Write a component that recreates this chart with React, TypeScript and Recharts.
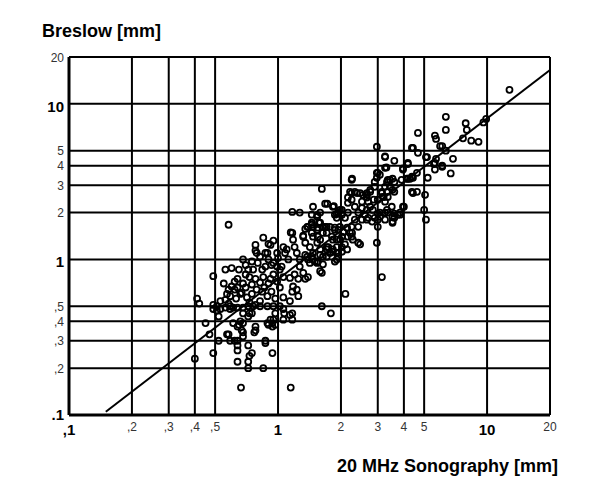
import { ScatterChart, Scatter, XAxis, YAxis, CartesianGrid } from "recharts";

// grid / tick values (mm, log scale)
const xTicks = [0.1, 0.2, 0.3, 0.4, 0.5, 1, 2, 3, 4, 5, 10, 20];
const xTickLabels = [",1", ",2", ",3", ",4", ",5", "1", "2", "3", "4", "5", "10", "20"];
const yTicks = [0.1, 0.2, 0.3, 0.4, 0.5, 1, 2, 3, 4, 5, 10, 20];
const yTickLabels = [".1", ",2", ",3", ",4", ",5", "1", "2", "3", "4", "5", "10", "20"];
const boldTicks = [0.1, 1, 10];

// [sonography, breslow] pairs
const points = [
  // low / left
  [0.40, 0.23], [0.49, 0.25], [0.45, 0.39], [0.47, 0.33], [0.52, 0.30], [0.57, 0.33], [0.59, 0.30],
  [0.62, 0.30], [0.64, 0.30], [0.64, 0.26], [0.64, 0.28], [0.68, 0.34], [0.72, 0.28], [0.73, 0.24],
  [0.72, 0.22], [0.72, 0.20], [0.85, 0.20], [0.64, 0.22], [0.665, 0.15], [1.15, 0.15], [0.66, 0.40],
  [0.64, 0.37], [0.68, 0.39], [0.78, 0.35], [0.77, 0.34], [0.78, 0.37], [0.89, 0.39], [0.87, 0.30],
  [0.94, 0.25], [0.75, 0.25], [0.67, 0.35], [0.58, 0.33], [0.61, 0.39], [0.65, 0.38], [0.68, 0.32],
  [0.87, 0.29], [0.90, 0.38], [0.95, 0.41], [0.97, 0.38], [1.06, 0.41], [1.17, 0.45], [1.07, 0.45],
  [0.94, 0.39], [0.92, 0.41], [0.94, 0.37], [1.14, 0.44], [1.17, 0.41], [0.52, 0.43], [0.72, 0.43],
  [0.73, 0.45], [0.75, 0.45], [0.68, 0.45], [0.97, 0.45], [1.62, 0.50], [1.79, 0.45], [2.10, 0.60],
  [3.14, 0.77],
  // band around 0.5
  [0.41, 0.56], [0.42, 0.52], [0.49, 0.51], [0.49, 0.48], [0.51, 0.47], [0.51, 0.50], [0.53, 0.48],
  [0.56, 0.49], [0.59, 0.50], [0.61, 0.49], [0.64, 0.49], [0.68, 0.49], [0.72, 0.50], [0.76, 0.50],
  [0.82, 0.50], [0.89, 0.50], [0.95, 0.50], [1.02, 0.50], [1.06, 0.48], [0.53, 0.54], [0.56, 0.55],
  [0.59, 0.48], [0.58, 0.52],
  // 0.55 - 0.9
  [0.49, 0.78], [0.56, 0.86], [0.60, 0.88], [0.65, 0.86], [0.58, 0.64], [0.59, 0.58], [0.60, 0.67],
  [0.62, 0.64], [0.64, 0.66], [0.67, 0.61], [0.71, 0.57], [0.73, 0.53], [0.78, 0.51], [0.82, 0.54],
  [0.89, 0.58], [0.84, 0.62], [0.79, 0.64], [0.75, 0.69], [0.73, 0.77], [0.78, 0.75], [0.82, 0.71],
  [0.85, 0.77], [0.64, 0.75], [0.92, 0.75], [0.95, 0.80], [0.99, 0.72], [1.02, 0.66], [1.06, 0.57],
  [1.14, 0.54], [1.25, 0.58], [1.23, 0.64], [1.17, 0.62], [1.18, 0.67], [1.35, 0.75], [1.25, 0.75],
  [1.20, 0.80], [1.14, 0.76], [1.06, 0.77], [1.02, 0.86], [1.39, 0.77], [1.32, 0.82], [1.27, 0.90],
  [0.55, 0.70], [0.62, 0.72], [0.68, 0.70], [0.70, 0.80], [0.66, 0.60], [0.75, 0.60], [0.70, 0.66],
  [0.57, 0.60], [0.63, 0.56], [0.86, 0.66], [0.93, 0.62], [0.97, 0.56], [0.90, 0.70],
  // 0.85 - 1.4
  [0.75, 0.97], [0.76, 0.86], [0.72, 0.86], [0.80, 0.95], [0.84, 0.86], [0.87, 0.90], [0.90, 1.00],
  [0.95, 0.95], [0.99, 0.90], [0.82, 1.04], [0.87, 1.10], [0.79, 1.10], [0.78, 1.24], [0.78, 1.14],
  [0.85, 1.38], [0.92, 1.24], [0.95, 1.32], [0.89, 1.10], [0.99, 1.10], [1.06, 1.20], [1.10, 1.16],
  [1.17, 1.48], [1.18, 1.34], [1.20, 1.20], [1.23, 1.10], [1.32, 1.42], [1.04, 0.90], [1.12, 1.00],
  [1.08, 1.10], [0.90, 1.26], [1.00, 1.02], [0.93, 0.92], [0.70, 0.92], [0.68, 1.00], [0.58, 1.67],
  // 1.2 - 2
  [1.38, 1.04], [1.47, 1.00], [1.55, 0.97], [1.64, 0.93], [1.59, 0.84], [1.62, 0.82], [1.42, 0.95],
  [1.54, 0.95], [1.27, 1.00], [1.35, 1.07], [1.45, 1.04], [1.64, 1.04], [1.59, 1.16], [1.71, 1.20],
  [1.42, 1.20], [1.35, 1.28], [1.32, 1.40], [1.47, 1.40], [1.55, 1.40], [1.64, 1.48], [1.47, 1.62],
  [1.55, 1.60], [1.64, 1.62], [1.38, 1.62], [1.45, 1.48], [1.54, 1.55], [1.59, 1.72], [1.71, 1.62],
  [1.71, 1.48], [1.81, 1.40], [1.87, 1.55], [1.91, 1.34], [1.91, 1.10], [1.71, 1.04], [1.59, 1.07],
  [1.47, 1.10], [1.39, 1.00], [1.50, 0.97], [1.71, 1.16], [1.83, 1.16], [1.54, 1.28], [1.59, 1.34],
  [1.74, 1.20], [1.83, 1.34], [1.87, 0.97], [1.77, 1.10], [1.83, 1.12], [1.94, 1.10], [1.91, 1.20],
  [2.02, 1.20], [1.91, 1.00], [1.94, 1.04], [2.02, 1.12], [2.14, 1.16], [2.09, 1.25], [2.47, 1.25],
  [1.98, 1.34], [2.16, 1.40], [2.28, 1.34], [2.26, 1.48], [1.94, 1.55], [2.02, 1.40], [2.05, 1.50],
  [2.14, 1.60], [2.42, 1.28], [2.97, 1.28],
  // 1.1 - 2, upper
  [1.17, 2.02], [1.27, 2.00], [1.47, 2.18], [1.45, 1.94], [1.54, 1.88], [1.59, 2.00], [1.54, 1.93],
  [1.45, 1.67], [1.39, 1.62], [1.45, 1.72], [1.57, 1.72], [1.68, 1.62], [1.77, 1.62], [1.87, 1.60],
  [1.98, 1.62], [1.35, 1.57], [1.15, 1.49], [1.68, 2.28], [1.72, 2.28], [1.85, 2.20], [1.91, 1.96],
  [1.91, 1.85], [1.62, 2.84], [1.83, 2.18], [1.98, 2.08], [1.87, 1.94], [2.02, 1.94], [2.09, 1.85],
  [2.25, 1.62], [2.42, 1.62], [2.21, 1.48], [2.25, 1.40],
  // 2 - 3
  [2.02, 2.08], [1.94, 2.00], [2.16, 2.00], [2.16, 2.50], [2.21, 2.72], [2.33, 2.72], [2.47, 2.67],
  [2.66, 2.60], [2.76, 2.72], [2.66, 2.67], [2.55, 2.60], [2.39, 2.67], [2.25, 2.67], [2.25, 3.25],
  [2.26, 3.30], [2.25, 2.42], [2.16, 2.31], [2.33, 2.18], [2.52, 2.14], [2.66, 2.08], [2.76, 2.18],
  [2.84, 2.08], [2.42, 2.00], [2.60, 1.94], [2.52, 1.80], [2.70, 1.85], [2.82, 1.75], [2.33, 1.80],
  [2.66, 1.80], [2.52, 2.35], [2.70, 2.35], [2.87, 2.42], [2.66, 2.50], [2.76, 2.80], [2.90, 3.15],
  [2.90, 2.93], [2.97, 3.35], [2.97, 3.60], [3.00, 3.60], [2.97, 5.30], [3.00, 2.42], [3.00, 1.97],
  [3.00, 1.62], [2.90, 1.85], [3.07, 2.00], [3.00, 1.80], [3.07, 1.88],
  // 3 - 5
  [3.25, 1.80], [3.53, 1.72], [3.74, 1.94], [3.53, 1.88], [3.50, 2.18], [3.32, 2.08], [3.25, 2.00],
  [3.35, 2.00], [3.60, 1.97], [3.60, 1.85], [3.53, 1.75], [3.83, 1.94], [3.83, 2.00], [3.96, 2.18],
  [4.00, 2.18], [3.43, 2.93], [3.53, 2.80], [3.32, 2.72], [3.18, 2.52], [3.14, 2.67], [3.35, 2.52],
  [3.25, 2.35], [3.14, 2.72], [3.20, 2.52], [3.25, 2.93], [3.60, 2.72], [4.37, 2.72], [4.62, 2.72],
  [4.42, 2.67], [5.05, 2.60], [5.00, 2.08], [5.10, 1.80], [3.07, 3.50], [3.35, 3.25], [3.53, 3.30],
  [3.60, 3.15], [3.90, 3.25], [4.13, 3.30], [4.37, 3.40], [4.62, 3.60], [4.18, 3.30], [4.42, 3.35],
  [4.28, 3.30], [3.32, 3.15], [3.43, 3.25], [3.25, 3.88], [3.30, 3.90], [3.96, 3.78], [3.96, 3.85],
  [4.18, 4.10], [4.18, 4.17], [3.60, 4.30], [3.25, 4.55], [3.25, 4.60], [4.42, 5.20], [4.67, 4.84],
  [5.16, 4.55], [5.10, 4.55], [5.20, 3.35], [4.67, 6.50], [4.37, 5.20],
  // upper right
  [5.70, 4.43], [6.87, 4.43], [5.63, 4.17], [5.57, 4.10], [5.63, 3.78], [6.10, 3.94], [6.10, 4.00],
  [6.70, 3.57], [5.96, 5.35], [6.10, 5.35], [6.35, 5.00], [5.63, 6.25], [5.70, 5.95], [6.35, 8.25],
  [6.35, 6.80], [7.90, 7.50], [8.00, 6.80], [7.67, 6.00], [8.40, 5.80], [9.10, 5.70], [9.60, 7.60],
  [9.90, 8.00], [12.8, 12.3],
];

// regression line end points
const fitX = [0.15, 20];
const fitY = [0.105, 16.5];

const scatterData = points.map(([x, y]) => ({ x, y }));
const fitData = fitX.map((x, i) => ({ x, y: fitY[i] }));

const font = "'Liberation Sans', Arial, Helvetica, sans-serif";

function XTick(props: any) {
  const { x, y, payload } = props;
  const v = payload.value;
  const big = boldTicks.includes(v);
  return (
    <text
      x={x}
      y={y + (big ? 20 : 16)}
      textAnchor="middle"
      fontFamily={font}
      fontSize={big ? 15 : 12}
      fontWeight={big ? "bold" : "normal"}
      fill={big ? "#000" : "#333"}
    >
      {xTickLabels[xTicks.indexOf(v)]}
    </text>
  );
}

function YTick(props: any) {
  const { x, y, payload } = props;
  const v = payload.value;
  const big = boldTicks.includes(v);
  const dy = v === 0.1 ? 5 : big ? 8 : 4.5;
  return (
    <text
      x={x - 5}
      y={y + dy}
      textAnchor="end"
      fontFamily={font}
      fontSize={big ? 15 : 12}
      fontWeight={big ? "bold" : "normal"}
      fill={big ? "#000" : "#333"}
    >
      {yTickLabels[yTicks.indexOf(v)]}
    </text>
  );
}

const ring = (p: any) => (
  <circle cx={p.cx} cy={p.cy} r={3} fill="none" stroke="#000" strokeWidth={1.8} />
);

export default function App() {
  return (
    <div style={{ position: "absolute", left: 0, top: 0, width: 600, height: 495, background: "#fff" }}>
      <div
        style={{
          position: "absolute",
          left: 42,
          top: 22,
          fontFamily: font,
          fontWeight: "bold",
          fontSize: 18,
          lineHeight: "18px",
          whiteSpace: "nowrap",
        }}
      >
        Breslow [mm]
      </div>
      <div
        style={{
          position: "absolute",
          right: 42,
          top: 457,
          fontFamily: font,
          fontWeight: "bold",
          fontSize: 18,
          lineHeight: "18px",
          whiteSpace: "nowrap",
        }}
      >
        20 MHz Sonography [mm]
      </div>
      <ScatterChart width={600} height={495} margin={{ top: 57, right: 50, bottom: 50, left: 9 }}>
        <CartesianGrid stroke="#000" strokeWidth={2} strokeDasharray="" />
        <XAxis
          type="number"
          dataKey="x"
          scale="log"
          domain={[0.1, 20]}
          ticks={xTicks}
          interval={0}
          allowDataOverflow
          height={30}
          tickSize={0}
          tickMargin={0}
          tick={<XTick />}
          axisLine={{ stroke: "#000", strokeWidth: 3 }}
          tickLine={false}
        />
        <YAxis
          type="number"
          dataKey="y"
          scale="log"
          domain={[0.1, 20]}
          ticks={yTicks}
          interval={0}
          allowDataOverflow
          width={60}
          tickSize={0}
          tickMargin={0}
          tick={<YTick />}
          axisLine={{ stroke: "#000", strokeWidth: 3 }}
          tickLine={false}
        />
        <Scatter
          data={fitData}
          line={{ stroke: "#000", strokeWidth: 2 }}
          shape={() => <g />}
          isAnimationActive={false}
        />
        <Scatter data={scatterData} shape={ring} isAnimationActive={false} />
      </ScatterChart>
    </div>
  );
}
